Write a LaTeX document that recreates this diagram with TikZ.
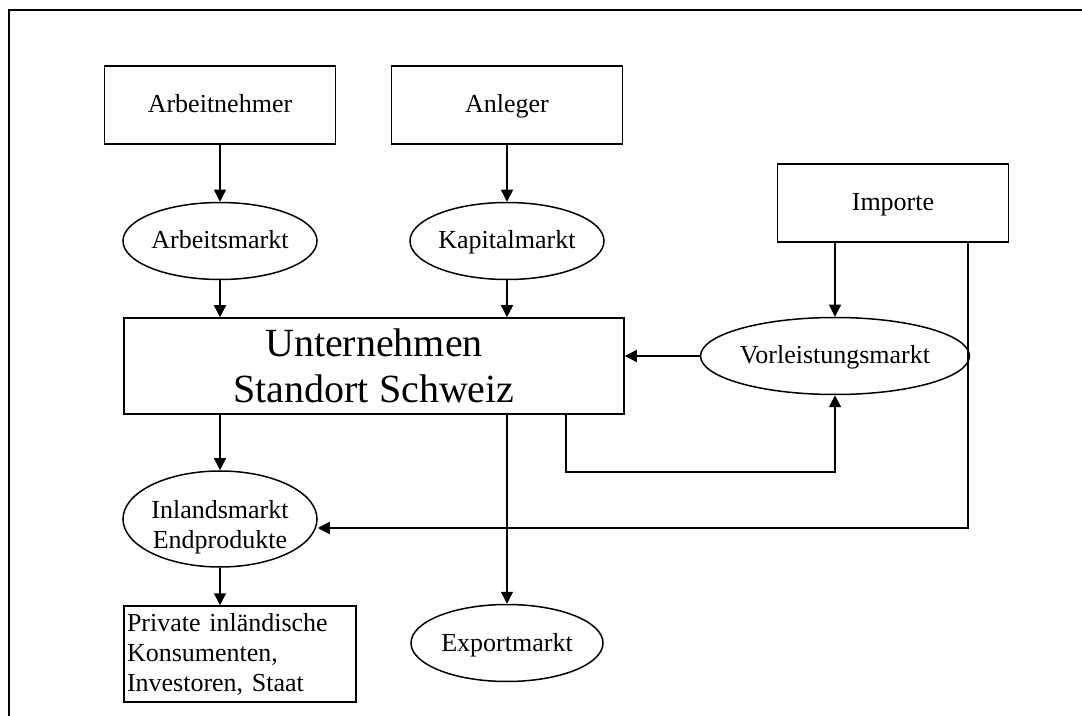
\documentclass[tikz,border=0pt]{standalone}
\usepackage{fontspec}
\setmainfont{Liberation Serif}
\usetikzlibrary{arrows.meta,shapes.geometric}

\begin{document}
\begin{tikzpicture}[x=0.5pt,y=-0.5pt,node distance=68pt,
	kasten/.style={draw,line width=0.75pt,inner sep=0pt,minimum width=115.5pt,minimum height=39pt,font=\fontsize{13pt}{15pt}\selectfont},
	markt/.style={draw,ellipse,line width=0.75pt,inner sep=0pt,minimum width=96pt,minimum height=38.5pt,font=\fontsize{13pt}{15pt}\selectfont},
	einzeilig/.style={text height=10pt,text depth=2pt},
	pfeil/.style={-{Triangle[length=6pt,width=6pt]},line width=0.7pt},
	breit/.style={line width=1pt}]
	\useasboundingbox (0,0) rectangle (1082,716);
	\draw[line width=0.8pt] (1082,10) -- (9,10) -- (9,716);

	\node(Arb) [kasten, einzeilig] at (220,105) {Arbeitnehmer};
	\node(ArbM) [markt, einzeilig, below of=Arb] {Arbeitsmarkt};
	\node(Anl) [kasten, einzeilig] at (507,105) {Anleger};
	\node(KapM) [markt, einzeilig, below of=Anl] {Kapitalmarkt};
	\node(Imp) [kasten, einzeilig] at (893,203) {Importe};
	\node(Unt) [kasten, minimum width=250pt, minimum height=48pt, align=center, font=\fontsize{20pt}{23pt}\selectfont] at (374,366) {Unternehmen\\Standort Schweiz};
	\node(VorM) [markt, einzeilig, minimum width=115.5pt] at (835,356) {Vorleistungsmarkt};
	\node(InlM) [markt, minimum width=96.5pt, minimum height=48pt, align=center, text height=29pt, text depth=0pt] at (220,519) {Inlandsmarkt\\Endprodukte};
	\node(Priv) [kasten, minimum height=48pt, inner xsep=1.5pt, text width=113pt, align=left] at (240,654) {Private inländische\\Konsumenten,\\Investoren, Staat};
	\node(ExpM) [markt, einzeilig] at (507,643) {Exportmarkt};
	\coordinate(Rueck) at (566,472);
	\coordinate(Ein) at (968,528);

	\draw[pfeil] (Arb) -- (ArbM);
	\draw[pfeil] (Anl) -- (KapM);
	\draw[pfeil] (ArbM.south) -- (ArbM.south |- Unt.north);
	\draw[pfeil] (KapM.south) -- (KapM.south |- Unt.north);
	\draw[pfeil] (VorM.north |- Imp.south) -- (VorM.north);
	\draw[pfeil] (VorM.west) -- (VorM.west -| Unt.east);
	\draw[pfeil, breit] (Rueck |- Unt.south) -- (Rueck) -- (Rueck -| VorM.south) -- (VorM.south);
	\draw[pfeil] (InlM.north |- Unt.south) -- (InlM.north);
	\draw[pfeil] (InlM.south) -- (InlM.south |- Priv.north);
	\draw[pfeil] (ExpM.north |- Unt.south) -- (ExpM.north);
	\draw[pfeil, breit] (Ein |- Imp.south) -- (Ein) -- (Ein -| InlM.east);

\end{tikzpicture}
\end{document}
